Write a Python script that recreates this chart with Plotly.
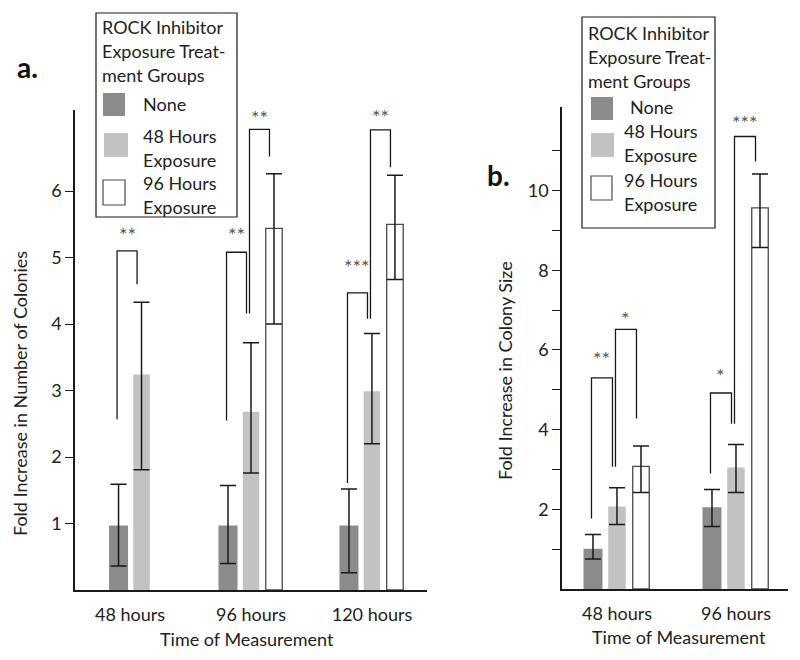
import plotly.graph_objects as go

# page body has an 8px default margin; the figure fills the rest of the 800x660 window
PAGE_OFF = 8
W, H = 800 - PAGE_OFF, 660 - PAGE_OFF

# ---------------- data ----------------
series_names = ["None", "48 Hours Exposure", "96 Hours Exposure"]

# Panel a: fold increase in number of colonies
cats_a = ["48 hours", "96 hours", "120 hours"]
none_a = [0.97, 0.97, 0.97]
none_a_lo = [0.36, 0.40, 0.26]
none_a_hi = [1.59, 1.57, 1.52]
h48_a = [3.24, 2.68, 2.99]
h48_a_lo = [1.81, 1.76, 2.20]
h48_a_hi = [4.33, 3.72, 3.86]
h96_a = [None, 5.44, 5.50]
h96_a_lo = [None, 4.00, 4.67]
h96_a_hi = [None, 6.26, 6.24]

# significance brackets, panel a
br_cat_a = [0, 1, 1, 2, 2]
br_from_a = [0, 0, 1, 0, 1]
br_to_a = [1, 1, 2, 1, 2]
br_left_a = [2.57, 2.55, 4.16, 1.61, 4.08]
br_top_a = [5.10, 5.08, 6.93, 4.47, 6.92]
br_right_a = [4.60, 4.16, 6.52, 4.08, 6.36]
br_label_a = ["**", "**", "**", "***", "**"]
br_label_y_a = [5.42, 5.41, 7.17, 4.93, 7.19]

# Panel b: fold increase in colony size
cats_b = ["48 hours", "96 hours"]
none_b = [1.01, 2.05]
none_b_lo = [0.75, 1.57]
none_b_hi = [1.37, 2.50]
h48_b = [2.07, 3.05]
h48_b_lo = [1.62, 2.42]
h48_b_hi = [2.54, 3.63]
h96_b = [3.08, 9.57]
h96_b_lo = [2.42, 8.57]
h96_b_hi = [3.59, 10.42]

br_cat_b = [0, 0, 1, 1]
br_from_b = [0, 1, 0, 1]
br_to_b = [1, 2, 1, 2]
br_left_b = [1.77, 3.07, 2.90, 4.15]
br_top_b = [5.30, 6.52, 4.92, 11.36]
br_right_b = [3.07, 4.28, 4.15, 10.73]
br_label_b = ["**", "*", "*", "***"]
br_label_y_b = [5.90, 6.90, 5.47, 11.82]

yticks_a = [1, 2, 3, 4, 5, 6]
yticks_b = [1, 2, 3, 4, 5, 6, 7, 8, 9, 10, 11]
yticklabels_b = ["", "2", "", "4", "", "6", "", "8", "", "10", ""]

# ---------------- style ----------------
FONT = "Lato"
TXT = "#222222"
C_DARK = "#8b8b8d"
C_LIGHT = "#c2c2c4"
C_WHITE = "#ffffff"
fills = [C_DARK, C_LIGHT, C_WHITE]
lines = [C_DARK, C_LIGHT, "#4a4a4a"]
lwidths = [0, 0, 1.3]
FS = 18


def px(x):
    return (x - PAGE_OFF) / W


def py(y):
    return 1 - (y - PAGE_OFF) / H


fig = go.Figure()


def add_panel(xa, ya, cats, vals, los, his, unit_px, bar_w_px, spacing_px,
              br_cat, br_from, br_to, br_left, br_top, br_right, br_label, br_label_y):
    pos = [[None] * len(cats) for _ in vals]
    for ci in range(len(cats)):
        present = [si for si in range(len(vals)) if vals[si][ci] is not None]
        n = len(present)
        for k, si in enumerate(present):
            pos[si][ci] = ci + (k - (n - 1) / 2) * spacing_px / unit_px
    for si in range(len(vals)):
        xs, ys, ep, em = [], [], [], []
        for ci in range(len(cats)):
            if vals[si][ci] is None:
                continue
            xs.append(pos[si][ci])
            ys.append(vals[si][ci])
            ep.append(his[si][ci] - vals[si][ci])
            em.append(vals[si][ci] - los[si][ci])
        fig.add_trace(go.Bar(
            x=xs, y=ys, name=series_names[si], xaxis=xa, yaxis=ya,
            width=bar_w_px[si] / unit_px,
            marker=dict(color=fills[si], line=dict(color=lines[si], width=lwidths[si])),
            error_y=dict(type="data", symmetric=False, array=ep, arrayminus=em,
                         color="#1a1a1a", thickness=1.5, width=8),
            showlegend=False,
        ))
    bx, by = [], []
    for i in range(len(br_cat)):
        c = br_cat[i]
        x1 = pos[br_from[i]][c] + (-1.5) / unit_px
        x2 = pos[br_to[i]][c] + (-4.5) / unit_px
        bx += [x1, x1, x2, x2, None]
        by += [br_left[i], br_top[i], br_top[i], br_right[i], None]
        fig.add_annotation(x=(x1 + x2) / 2, y=br_label_y[i], xref=xa, yref=ya,
                           text=br_label[i], showarrow=False,
                           font=dict(family=FONT, size=20, color="#555555"),
                           xanchor="center", yanchor="middle", yshift=-4)
    fig.add_trace(go.Scatter(x=bx, y=by, mode="lines", xaxis=xa, yaxis=ya,
                             line=dict(color="#1a1a1a", width=1.3),
                             showlegend=False, hoverinfo="skip"))


add_panel("x", "y", cats_a, [none_a, h48_a, h96_a], [none_a_lo, h48_a_lo, h96_a_lo],
          [none_a_hi, h48_a_hi, h96_a_hi], 121, [19, 16.5, 16.5], 23,
          br_cat_a, br_from_a, br_to_a, br_left_a, br_top_a, br_right_a, br_label_a, br_label_y_a)
add_panel("x2", "y2", cats_b, [none_b, h48_b, h96_b], [none_b_lo, h48_b_lo, h96_b_lo],
          [none_b_hi, h48_b_hi, h96_b_hi], 119, [19, 17.5, 16.5], 24,
          br_cat_b, br_from_b, br_to_b, br_left_b, br_top_b, br_right_b, br_label_b, br_label_y_b)

axis_font = dict(family=FONT, size=FS, color=TXT)
xcommon = dict(showline=True, linecolor="#1a1a1a", linewidth=1.5, ticks="", showgrid=False,
               zeroline=False, tickfont=axis_font, ticklabelstandoff=8, fixedrange=True)
ycommon = dict(showline=True, linecolor="#1a1a1a", linewidth=1.5, ticks="outside", ticklen=8,
               tickwidth=1.3, tickcolor="#1a1a1a", showgrid=False, zeroline=False,
               tickfont=axis_font, fixedrange=True)

fig.update_layout(
    width=W, height=H,
    margin=dict(l=0, r=0, t=0, b=0),
    paper_bgcolor="white", plot_bgcolor="white",
    barmode="overlay",
    showlegend=False,
    font=dict(family=FONT, color=TXT),
    xaxis=dict(domain=[px(75), px(427)], range=[-0.455, 2.455], anchor="y",
               tickvals=list(range(len(cats_a))), ticktext=cats_a, **xcommon),
    yaxis=dict(domain=[py(590), py(110)], range=[0, 7.22], anchor="x",
               tickvals=yticks_a, **ycommon),
    xaxis2=dict(domain=[px(562), px(788)], range=[-0.462, 1.437], anchor="y2",
                tickvals=list(range(len(cats_b))), ticktext=cats_b, **xcommon),
    yaxis2=dict(domain=[py(589), py(107)], range=[0, 12.1], anchor="x2",
                tickvals=yticks_b, ticktext=yticklabels_b, **ycommon),
)


def label(text, x, y, font, angle=0, xanchor="center"):
    fig.add_annotation(x=px(x), y=py(y), xref="paper", yref="paper", text=text,
                       textangle=angle, showarrow=False, font=font,
                       xanchor=xanchor, yanchor="middle")


# axis titles
label("Time of Measurement", 247, 639, axis_font)
label("Time of Measurement", 679, 637, axis_font)
label("Fold Increase in Number of Colonies", 20, 394, axis_font, angle=-90)
label("Fold Increase in Colony Size", 505, 370, axis_font, angle=-90)

# panel letters
letter_font = dict(family=FONT, size=28, color="#111111")
label("<b>a.</b>", 27, 67, letter_font)
label("<b>b.</b>", 498, 175, letter_font)

# legends (drawn as boxes with swatches)
leg_font = dict(family=FONT, size=FS, color=TXT)
title_lines = ["ROCK Inhibitor", "Exposure Treat-", "ment Groups"]


def legend(box, title_x, title_ys, swatches, labels):
    x0, y0, x1, y1 = box
    fig.add_shape(type="rect", xref="paper", yref="paper", x0=px(x0), x1=px(x1),
                  y0=py(y1), y1=py(y0), line=dict(color="#1a1a1a", width=1.2),
                  fillcolor="white", layer="above")
    for t, yy in zip(title_lines, title_ys):
        label(t, title_x, yy, leg_font, xanchor="left")
    for si, (sx0, sy0, sx1, sy1) in enumerate(swatches):
        fig.add_shape(type="rect", xref="paper", yref="paper", x0=px(sx0), x1=px(sx1),
                      y0=py(sy1), y1=py(sy0), fillcolor=fills[si],
                      line=dict(color=lines[si] if si == 2 else fills[si], width=1.2 if si == 2 else 0),
                      layer="above")
    for (t, lx, ly) in labels:
        label(t, lx, ly, leg_font, xanchor="left")


legend((96, 13, 237, 217), 100, [27, 51, 75],
       [(103, 93, 125, 116), (104, 133, 128, 157), (103, 180, 125, 205)],
       [("None", 141, 104), ("48 Hours", 141, 136), ("Exposure", 141, 160),
        ("96 Hours", 141, 183), ("Exposure", 141, 207)])
legend((582, 17, 715, 228), 586, [33, 57, 81],
       [(591, 97, 613, 120), (591, 133, 614, 157), (591, 176, 612, 200)],
       [("None", 628, 107), ("48 Hours", 622, 131), ("Exposure", 622, 155),
        ("96 Hours", 622, 180), ("Exposure", 622, 204)])

fig.write_html("out.html")
